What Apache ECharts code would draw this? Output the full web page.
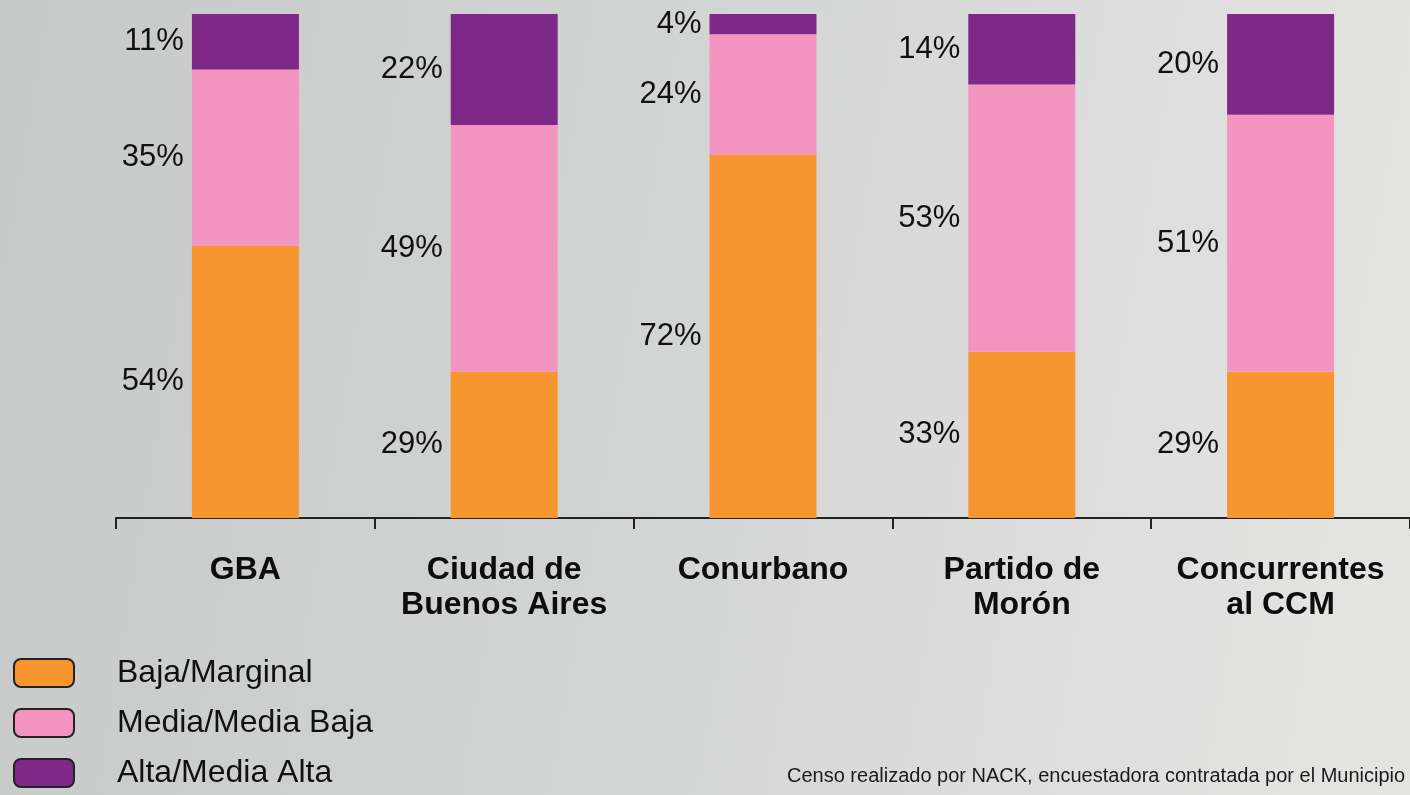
<!DOCTYPE html>
<html>
<head>
<meta charset="utf-8">
<script src="https://cdn.jsdelivr.net/npm/echarts@6/dist/echarts.min.js"></script>
<style>
  html, body { margin: 0; padding: 0; }
  #main { width: 1410px; height: 795px; }
</style>
</head>
<body>
<div id="main"></div>
<script>
  var categories = ['GBA', 'Ciudad de\nBuenos Aires', 'Conurbano', 'Partido de\nMorón', 'Concurrentes\nal CCM'];
  var seriesNames = ['Baja/Marginal', 'Media/Media Baja', 'Alta/Media Alta'];
  var baja = [54, 29, 72, 33, 29];
  var media = [35, 49, 24, 53, 51];
  var alta = [11, 22, 4, 14, 20];
  var colors = ['#F7962F', '#F495C1', '#7E2888'];
  var footnote = 'Censo realizado por NACK, encuestadora contratada por el Municipio';

  var myChart = echarts.init(document.getElementById('main'));

  function barSeries(name, data, color) {
    return {
      name: name,
      type: 'bar',
      stack: 'total',
      barWidth: 107,
      data: data,
      itemStyle: {color: color},
      label: {
        show: true,
        position: 'left',
        distance: 8,
        formatter: '{c}%',
        color: '#111',
        fontSize: 31,
        fontFamily: 'Liberation Sans'
      }
    };
  }

  var option = {
    backgroundColor: {
      type: 'linear', x: 0, y: 0, x2: 1, y2: 0.3,
      colorStops: [
        {offset: 0, color: '#c6c9c7'},
        {offset: 0.5, color: '#d3d5d4'},
        {offset: 1, color: '#e3e3e2'}
      ]
    },
    animation: false,
    grid: {left: 116, top: 14, width: 1298, bottom: 277},
    legend: {
      orient: 'vertical',
      left: 13,
      top: 657,
      padding: 0,
      height: 140,
      itemWidth: 60,
      itemHeight: 28,
      itemGap: 18,
      icon: 'roundRect',
      data: seriesNames,
      itemStyle: {borderColor: '#222', borderWidth: 2},
      textStyle: {
        fontSize: 32,
        color: '#111',
        fontFamily: 'Liberation Sans',
        padding: [0, 0, 0, 38]
      }
    },
    xAxis: {
      type: 'category',
      data: categories,
      axisLine: {lineStyle: {color: '#222', width: 2}},
      axisTick: {show: true, interval: 0, length: 11, lineStyle: {color: '#222', width: 2}},
      axisLabel: {
        interval: 0,
        hideOverlap: false,
        margin: 35,
        fontSize: 32,
        lineHeight: 35,
        fontWeight: 'bold',
        color: '#0d0d0d',
        fontFamily: 'Liberation Sans'
      }
    },
    yAxis: {type: 'value', min: 0, max: 100, show: false},
    graphic: [{
      type: 'text',
      left: 787,
      top: 766,
      style: {
        text: footnote,
        fill: '#1a1a1a',
        font: '20px "Liberation Sans"'
      }
    }],
    series: [
      barSeries(seriesNames[0], baja, colors[0]),
      barSeries(seriesNames[1], media, colors[1]),
      barSeries(seriesNames[2], alta, colors[2])
    ]
  };
  myChart.setOption(option);
</script>
</body>
</html>
